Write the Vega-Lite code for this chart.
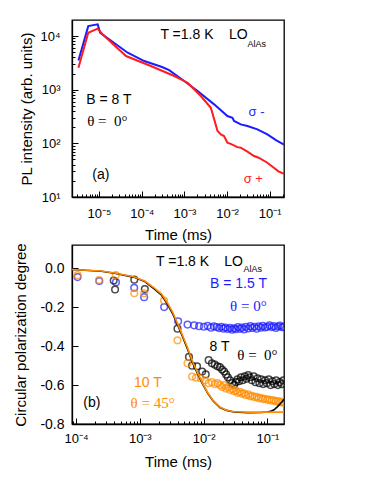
{
  "$schema": "https://vega.github.io/schema/vega-lite/v6.json",
  "padding": {"left": 13, "top": 19, "right": 5, "bottom": 5},
  "spacing": -1,
  "resolve": {"scale": {"color": "independent"}},
  "config": {
    "view": {"stroke": "black", "strokeWidth": 1.3},
    "axis": {
      "domainColor": "black", "domainWidth": 1.3, "tickColor": "black", "tickWidth": 1,
      "labelColor": "black", "titleColor": "black",
      "labelFont": "Liberation Sans", "titleFont": "Liberation Sans",
      "labelFontSize": 13, "titleFontSize": 15, "titleFontWeight": "normal",
      "grid": false, "labelOverlap": false, "labelFlush": false
    },
    "text": {"font": "Liberation Sans", "fontSize": 14, "color": "black", "align": "center", "baseline": "middle"}
  },
  "vconcat": [
    {
      "width": 212,
      "height": 177,
      "layer": [
        {
          "data": {"values": [
            {"pol": "σ-", "t": 3.3e-6, "I": 3500},
            {"pol": "σ-", "t": 5.6e-6, "I": 15300},
            {"pol": "σ-", "t": 9.3e-6, "I": 16500},
            {"pol": "σ-", "t": 1.07e-5, "I": 11500},
            {"pol": "σ-", "t": 2.0e-5, "I": 8000},
            {"pol": "σ-", "t": 4.7e-5, "I": 4890},
            {"pol": "σ-", "t": 1.15e-4, "I": 3420},
            {"pol": "σ-", "t": 3.0e-4, "I": 2650},
            {"pol": "σ-", "t": 4.4e-4, "I": 2320},
            {"pol": "σ-", "t": 9.9e-4, "I": 1450},
            {"pol": "σ-", "t": 2.04e-3, "I": 944},
            {"pol": "σ-", "t": 4.98e-3, "I": 533},
            {"pol": "σ-", "t": 1.02e-2, "I": 323},
            {"pol": "σ-", "t": 1.34e-2, "I": 300},
            {"pol": "σ-", "t": 1.46e-2, "I": 261},
            {"pol": "σ-", "t": 2.1e-2, "I": 226},
            {"pol": "σ-", "t": 3.0e-2, "I": 210},
            {"pol": "σ-", "t": 5.15e-2, "I": 182},
            {"pol": "σ-", "t": 8.8e-2, "I": 147},
            {"pol": "σ-", "t": 0.14, "I": 115},
            {"pol": "σ-", "t": 0.216, "I": 95},
            {"pol": "σ+", "t": 3.3e-6, "I": 2560},
            {"pol": "σ+", "t": 5.6e-6, "I": 11500},
            {"pol": "σ+", "t": 9.3e-6, "I": 13700},
            {"pol": "σ+", "t": 1.22e-5, "I": 10700},
            {"pol": "σ+", "t": 4.3e-5, "I": 4240},
            {"pol": "σ+", "t": 1.64e-4, "I": 2760},
            {"pol": "σ+", "t": 5.8e-4, "I": 1800},
            {"pol": "σ+", "t": 1.19e-3, "I": 1350},
            {"pol": "σ+", "t": 2.43e-3, "I": 762},
            {"pol": "σ+", "t": 4.17e-3, "I": 461},
            {"pol": "σ+", "t": 5.0e-3, "I": 280},
            {"pol": "σ+", "t": 5.98e-3, "I": 170},
            {"pol": "σ+", "t": 7.15e-3, "I": 147},
            {"pol": "σ+", "t": 8.5e-3, "I": 137},
            {"pol": "σ+", "t": 1.02e-2, "I": 103},
            {"pol": "σ+", "t": 1.22e-2, "I": 98},
            {"pol": "σ+", "t": 1.75e-2, "I": 85},
            {"pol": "σ+", "t": 2.1e-2, "I": 83},
            {"pol": "σ+", "t": 3.0e-2, "I": 70},
            {"pol": "σ+", "t": 4.3e-2, "I": 58},
            {"pol": "σ+", "t": 5.5e-2, "I": 54},
            {"pol": "σ+", "t": 8.8e-2, "I": 43.5},
            {"pol": "σ+", "t": 0.125, "I": 35},
            {"pol": "σ+", "t": 0.16, "I": 30},
            {"pol": "σ+", "t": 0.216, "I": 27}
          ]},
          "mark": {"type": "line", "strokeWidth": 2, "clip": true},
          "encoding": {
            "x": {
              "field": "t", "type": "quantitative",
              "scale": {"type": "log", "domain": [2.33e-6, 0.216], "nice": false},
              "axis": {
                "title": "Time (ms)",
                "values": [3e-6,4e-6,5e-6,6e-6,7e-6,8e-6,9e-6,1e-5,2e-5,3e-5,4e-5,5e-5,6e-5,7e-5,8e-5,9e-5,1e-4,2e-4,3e-4,4e-4,5e-4,6e-4,7e-4,8e-4,9e-4,1e-3,2e-3,3e-3,4e-3,5e-3,6e-3,7e-3,8e-3,9e-3,1e-2,2e-2,3e-2,4e-2,5e-2,6e-2,7e-2,8e-2,9e-2,1e-1,2e-1],
                "labelExpr": "abs(log(datum.value)/LN10 - round(log(datum.value)/LN10)) < 0.01 ? '10' + (round(log(datum.value)/LN10) < 0 ? '⁻' : '') + ['⁰','¹','²','³','⁴','⁵','⁶'][abs(round(log(datum.value)/LN10))] : ''",
                "tickSize": {"condition": {"test": "abs(log(datum.value)/LN10 - round(log(datum.value)/LN10)) < 0.01", "value": -6}, "value": -3},
                "labelPadding": 16,
                "titlePadding": 4
              }
            },
            "y": {
              "field": "I", "type": "quantitative",
              "scale": {"type": "log", "domain": [10, 19900], "nice": false},
              "axis": {
                "title": "PL intensity (arb. units)",
                "values": [10,20,30,40,50,60,70,80,90,100,200,300,400,500,600,700,800,900,1000,2000,3000,4000,5000,6000,7000,8000,9000,10000],
                "labelExpr": "abs(log(datum.value)/LN10 - round(log(datum.value)/LN10)) < 0.01 ? '10' + (round(log(datum.value)/LN10) < 0 ? '⁻' : '') + ['⁰','¹','²','³','⁴','⁵','⁶'][abs(round(log(datum.value)/LN10))] : ''",
                "tickSize": {"condition": {"test": "abs(log(datum.value)/LN10 - round(log(datum.value)/LN10)) < 0.01", "value": -6}, "value": -3},
                "labelPadding": 18,
                "titlePadding": 5
              }
            },
            "color": {"field": "pol", "type": "nominal", "scale": {"domain": ["σ-", "σ+"], "range": ["#1c1cff", "#ff1c1c"]}, "legend": null}
          }
        },
        {
          "data": {"values": [
            {"t": 1.15e-3, "I": 10400, "label": "T =1.8 K"},
            {"t": 1.83e-2, "I": 10400, "label": "LO"},
            {"t": 1.71e-5, "I": 641, "label": "B = 8 T"},
            {"t": 1.11e-5, "I": 25.7, "label": "(a)"}
          ]},
          "mark": {"type": "text", "fontSize": 14},
          "encoding": {"x": {"field": "t", "type": "quantitative"}, "y": {"field": "I", "type": "quantitative"}, "text": {"field": "label"}}
        },
        {
          "data": {"values": [{"t": 4.97e-2, "I": 7140, "label": "AlAs"}]},
          "mark": {"type": "text", "fontSize": 9},
          "encoding": {"x": {"field": "t", "type": "quantitative"}, "y": {"field": "I", "type": "quantitative"}, "text": {"field": "label"}}
        },
        {
          "data": {"values": [{"t": 1.57e-5, "I": 264, "label": "θ = \u00a00°"}]},
          "mark": {"type": "text", "fontSize": 15, "font": "Liberation Serif"},
          "encoding": {"x": {"field": "t", "type": "quantitative"}, "y": {"field": "I", "type": "quantitative"}, "text": {"field": "label"}}
        },
        {
          "data": {"values": [{"t": 4.91e-2, "I": 380, "label": "σ -"}]},
          "mark": {"type": "text", "fontSize": 13, "color": "#1c1cff"},
          "encoding": {"x": {"field": "t", "type": "quantitative"}, "y": {"field": "I", "type": "quantitative"}, "text": {"field": "label"}}
        },
        {
          "data": {"values": [{"t": 4.11e-2, "I": 21.4, "label": "σ +"}]},
          "mark": {"type": "text", "fontSize": 13, "color": "#ff1c1c"},
          "encoding": {"x": {"field": "t", "type": "quantitative"}, "y": {"field": "I", "type": "quantitative"}, "text": {"field": "label"}}
        }
      ]
    },
    {
      "width": 212,
      "height": 179,
      "layer": [
        {
          "data": {"values": [
            {"B": "1.5 T", "t": 1.06e-4, "P": -0.045},
            {"B": "1.5 T", "t": 2.32e-4, "P": -0.065},
            {"B": "1.5 T", "t": 4.23e-4, "P": -0.071},
            {"B": "1.5 T", "t": 8.17e-4, "P": -0.100},
            {"B": "1.5 T", "t": 1.17e-3, "P": -0.148},
            {"B": "1.5 T", "t": 2.41e-3, "P": -0.199},
            {"B": "1.5 T", "t": 3.99e-3, "P": -0.272},
            {"B": "1.5 T", "t": 5.6e-3, "P": -0.289},
            {"B": "1.5 T", "t": 7.1e-3, "P": -0.293},
            {"B": "1.5 T", "t": 8.5e-3, "P": -0.297},
            {"B": "1.5 T", "t": 1.01e-2, "P": -0.300},
            {"B": "1.5 T", "t": 1.16e-2, "P": -0.296},
            {"B": "1.5 T", "t": 1.3e-2, "P": -0.305},
            {"B": "1.5 T", "t": 1.45e-2, "P": -0.298},
            {"B": "1.5 T", "t": 1.6e-2, "P": -0.302},
            {"B": "1.5 T", "t": 1.75e-2, "P": -0.307},
            {"B": "1.5 T", "t": 1.9e-2, "P": -0.300},
            {"B": "1.5 T", "t": 2.05e-2, "P": -0.310},
            {"B": "1.5 T", "t": 2.2e-2, "P": -0.304},
            {"B": "1.5 T", "t": 2.4e-2, "P": -0.312},
            {"B": "1.5 T", "t": 2.6e-2, "P": -0.306},
            {"B": "1.5 T", "t": 2.8e-2, "P": -0.315},
            {"B": "1.5 T", "t": 3.0e-2, "P": -0.308},
            {"B": "1.5 T", "t": 3.2e-2, "P": -0.313},
            {"B": "1.5 T", "t": 3.45e-2, "P": -0.302},
            {"B": "1.5 T", "t": 3.7e-2, "P": -0.311},
            {"B": "1.5 T", "t": 4.0e-2, "P": -0.305},
            {"B": "1.5 T", "t": 4.3e-2, "P": -0.314},
            {"B": "1.5 T", "t": 4.6e-2, "P": -0.300},
            {"B": "1.5 T", "t": 5.0e-2, "P": -0.309},
            {"B": "1.5 T", "t": 5.4e-2, "P": -0.297},
            {"B": "1.5 T", "t": 5.8e-2, "P": -0.306},
            {"B": "1.5 T", "t": 6.3e-2, "P": -0.300},
            {"B": "1.5 T", "t": 6.8e-2, "P": -0.310},
            {"B": "1.5 T", "t": 7.3e-2, "P": -0.298},
            {"B": "1.5 T", "t": 7.9e-2, "P": -0.305},
            {"B": "1.5 T", "t": 8.5e-2, "P": -0.296},
            {"B": "1.5 T", "t": 9.2e-2, "P": -0.304},
            {"B": "1.5 T", "t": 0.1, "P": -0.300},
            {"B": "1.5 T", "t": 0.108, "P": -0.293},
            {"B": "1.5 T", "t": 0.117, "P": -0.302},
            {"B": "1.5 T", "t": 0.126, "P": -0.297},
            {"B": "1.5 T", "t": 0.136, "P": -0.306},
            {"B": "1.5 T", "t": 0.147, "P": -0.299},
            {"B": "1.5 T", "t": 0.158, "P": -0.294},
            {"B": "1.5 T", "t": 0.17, "P": -0.303},
            {"B": "1.5 T", "t": 0.179, "P": -0.300},
            {"B": "8 T", "t": 3.9e-4, "P": -0.063},
            {"B": "8 T", "t": 4.1e-4, "P": -0.109},
            {"B": "8 T", "t": 8.2e-4, "P": -0.058},
            {"B": "8 T", "t": 1.2e-3, "P": -0.106},
            {"B": "8 T", "t": 3.9e-3, "P": -0.310},
            {"B": "8 T", "t": 5.9e-3, "P": -0.455},
            {"B": "8 T", "t": 6.6e-3, "P": -0.500},
            {"B": "8 T", "t": 7.9e-3, "P": -0.503},
            {"B": "8 T", "t": 9.5e-3, "P": -0.530},
            {"B": "8 T", "t": 1.08e-2, "P": -0.545},
            {"B": "8 T", "t": 1.2e-2, "P": -0.472},
            {"B": "8 T", "t": 1.35e-2, "P": -0.488},
            {"B": "8 T", "t": 1.5e-2, "P": -0.495},
            {"B": "8 T", "t": 1.65e-2, "P": -0.503},
            {"B": "8 T", "t": 1.8e-2, "P": -0.508},
            {"B": "8 T", "t": 1.95e-2, "P": -0.520},
            {"B": "8 T", "t": 2.1e-2, "P": -0.530},
            {"B": "8 T", "t": 2.25e-2, "P": -0.545},
            {"B": "8 T", "t": 2.4e-2, "P": -0.560},
            {"B": "8 T", "t": 2.6e-2, "P": -0.575},
            {"B": "8 T", "t": 2.8e-2, "P": -0.590},
            {"B": "8 T", "t": 3.0e-2, "P": -0.600},
            {"B": "8 T", "t": 3.2e-2, "P": -0.585},
            {"B": "8 T", "t": 3.4e-2, "P": -0.570},
            {"B": "8 T", "t": 3.6e-2, "P": -0.580},
            {"B": "8 T", "t": 3.85e-2, "P": -0.560},
            {"B": "8 T", "t": 4.1e-2, "P": -0.575},
            {"B": "8 T", "t": 4.4e-2, "P": -0.555},
            {"B": "8 T", "t": 4.7e-2, "P": -0.568},
            {"B": "8 T", "t": 5.0e-2, "P": -0.548},
            {"B": "8 T", "t": 5.3e-2, "P": -0.560},
            {"B": "8 T", "t": 5.7e-2, "P": -0.575},
            {"B": "8 T", "t": 6.1e-2, "P": -0.555},
            {"B": "8 T", "t": 6.5e-2, "P": -0.585},
            {"B": "8 T", "t": 7.0e-2, "P": -0.565},
            {"B": "8 T", "t": 7.5e-2, "P": -0.590},
            {"B": "8 T", "t": 8.0e-2, "P": -0.570},
            {"B": "8 T", "t": 8.6e-2, "P": -0.595},
            {"B": "8 T", "t": 9.2e-2, "P": -0.575},
            {"B": "8 T", "t": 9.8e-2, "P": -0.590},
            {"B": "8 T", "t": 0.105, "P": -0.570},
            {"B": "8 T", "t": 0.112, "P": -0.600},
            {"B": "8 T", "t": 0.12, "P": -0.580},
            {"B": "8 T", "t": 0.128, "P": -0.595},
            {"B": "8 T", "t": 0.137, "P": -0.575},
            {"B": "8 T", "t": 0.146, "P": -0.600},
            {"B": "8 T", "t": 0.156, "P": -0.585},
            {"B": "8 T", "t": 0.167, "P": -0.595},
            {"B": "8 T", "t": 0.178, "P": -0.575},
            {"B": "10 T", "t": 1.06e-4, "P": -0.035},
            {"B": "10 T", "t": 2.3e-4, "P": -0.060},
            {"B": "10 T", "t": 4.2e-4, "P": -0.035},
            {"B": "10 T", "t": 8.2e-4, "P": -0.128},
            {"B": "10 T", "t": 1.17e-3, "P": -0.128},
            {"B": "10 T", "t": 2.4e-3, "P": -0.165},
            {"B": "10 T", "t": 3.9e-3, "P": -0.370},
            {"B": "10 T", "t": 5.6e-3, "P": -0.488},
            {"B": "10 T", "t": 6.6e-3, "P": -0.556},
            {"B": "10 T", "t": 7.6e-3, "P": -0.562},
            {"B": "10 T", "t": 9.0e-3, "P": -0.565},
            {"B": "10 T", "t": 1.05e-2, "P": -0.575},
            {"B": "10 T", "t": 1.2e-2, "P": -0.590},
            {"B": "10 T", "t": 1.35e-2, "P": -0.585},
            {"B": "10 T", "t": 1.5e-2, "P": -0.595},
            {"B": "10 T", "t": 1.65e-2, "P": -0.590},
            {"B": "10 T", "t": 1.8e-2, "P": -0.600},
            {"B": "10 T", "t": 1.95e-2, "P": -0.610},
            {"B": "10 T", "t": 2.1e-2, "P": -0.600},
            {"B": "10 T", "t": 2.25e-2, "P": -0.618},
            {"B": "10 T", "t": 2.4e-2, "P": -0.610},
            {"B": "10 T", "t": 2.6e-2, "P": -0.625},
            {"B": "10 T", "t": 2.8e-2, "P": -0.620},
            {"B": "10 T", "t": 3.0e-2, "P": -0.632},
            {"B": "10 T", "t": 3.2e-2, "P": -0.628},
            {"B": "10 T", "t": 3.45e-2, "P": -0.640},
            {"B": "10 T", "t": 3.7e-2, "P": -0.635},
            {"B": "10 T", "t": 4.0e-2, "P": -0.645},
            {"B": "10 T", "t": 4.3e-2, "P": -0.642},
            {"B": "10 T", "t": 4.6e-2, "P": -0.652},
            {"B": "10 T", "t": 5.0e-2, "P": -0.648},
            {"B": "10 T", "t": 5.4e-2, "P": -0.658},
            {"B": "10 T", "t": 5.8e-2, "P": -0.655},
            {"B": "10 T", "t": 6.3e-2, "P": -0.662},
            {"B": "10 T", "t": 6.8e-2, "P": -0.660},
            {"B": "10 T", "t": 7.3e-2, "P": -0.668},
            {"B": "10 T", "t": 7.9e-2, "P": -0.665},
            {"B": "10 T", "t": 8.5e-2, "P": -0.672},
            {"B": "10 T", "t": 9.2e-2, "P": -0.670},
            {"B": "10 T", "t": 0.1, "P": -0.676},
            {"B": "10 T", "t": 0.108, "P": -0.674},
            {"B": "10 T", "t": 0.117, "P": -0.680},
            {"B": "10 T", "t": 0.126, "P": -0.678},
            {"B": "10 T", "t": 0.136, "P": -0.684},
            {"B": "10 T", "t": 0.147, "P": -0.682},
            {"B": "10 T", "t": 0.158, "P": -0.688},
            {"B": "10 T", "t": 0.17, "P": -0.685},
            {"B": "10 T", "t": 0.179, "P": -0.692}
          ]},
          "mark": {"type": "point", "filled": false, "size": 44, "strokeWidth": 1.5, "clip": true},
          "encoding": {
            "x": {
              "field": "t", "type": "quantitative",
              "scale": {"type": "log", "domain": [8.66e-5, 0.182], "nice": false},
              "axis": {
                "title": "Time (ms)",
                "values": [9e-5,1e-4,2e-4,3e-4,4e-4,5e-4,6e-4,7e-4,8e-4,9e-4,1e-3,2e-3,3e-3,4e-3,5e-3,6e-3,7e-3,8e-3,9e-3,1e-2,2e-2,3e-2,4e-2,5e-2,6e-2,7e-2,8e-2,9e-2,1e-1],
                "labelExpr": "abs(log(datum.value)/LN10 - round(log(datum.value)/LN10)) < 0.01 ? '10' + (round(log(datum.value)/LN10) < 0 ? '⁻' : '') + ['⁰','¹','²','³','⁴','⁵','⁶'][abs(round(log(datum.value)/LN10))] : ''",
                "tickSize": {"condition": {"test": "abs(log(datum.value)/LN10 - round(log(datum.value)/LN10)) < 0.01", "value": -6}, "value": -3},
                "labelPadding": 14,
                "titlePadding": 6
              }
            },
            "y": {
              "field": "P", "type": "quantitative",
              "scale": {"domain": [-0.8, 0.12], "nice": false, "zero": false},
              "axis": {
                "title": "Circular polarization degree",
                "values": [-0.8,-0.7,-0.6,-0.5,-0.4,-0.3,-0.2,-0.1,0,0.1],
                "labelFontSize": 14,
                "labelExpr": "abs(round(datum.value*10)) % 2 == 0 ? (datum.value < -0.01 ? '-' : '') + format(abs(datum.value), '.1f') : ''",
                "tickSize": {"condition": {"test": "abs(round(datum.value*10)) % 2 == 0", "value": -6}, "value": -3},
                "labelPadding": 14,
                "titlePadding": 11
              }
            },
            "color": {"field": "B", "type": "nominal", "scale": {"domain": ["1.5 T", "8 T", "10 T"], "range": ["#1c1cff", "#000000", "#ff8c00"]}, "legend": null}
          }
        },
        {
          "data": {"values": [
            {"fit": "8 T", "t": 8.7e-5, "P": -0.006},
            {"fit": "8 T", "t": 2.5e-4, "P": -0.015},
            {"fit": "8 T", "t": 4e-4, "P": -0.025},
            {"fit": "8 T", "t": 8e-4, "P": -0.045},
            {"fit": "8 T", "t": 1.2e-3, "P": -0.068},
            {"fit": "8 T", "t": 1.68e-3, "P": -0.105},
            {"fit": "8 T", "t": 2.2e-3, "P": -0.138},
            {"fit": "8 T", "t": 2.72e-3, "P": -0.185},
            {"fit": "8 T", "t": 3.3e-3, "P": -0.235},
            {"fit": "8 T", "t": 3.9e-3, "P": -0.29},
            {"fit": "8 T", "t": 4.6e-3, "P": -0.345},
            {"fit": "8 T", "t": 5.6e-3, "P": -0.415},
            {"fit": "8 T", "t": 6.6e-3, "P": -0.48},
            {"fit": "8 T", "t": 8.0e-3, "P": -0.54},
            {"fit": "8 T", "t": 9.5e-3, "P": -0.59},
            {"fit": "8 T", "t": 1.15e-2, "P": -0.64},
            {"fit": "8 T", "t": 1.4e-2, "P": -0.68},
            {"fit": "8 T", "t": 1.8e-2, "P": -0.715},
            {"fit": "8 T", "t": 2.3e-2, "P": -0.73},
            {"fit": "8 T", "t": 3.0e-2, "P": -0.738},
            {"fit": "8 T", "t": 5.0e-2, "P": -0.742},
            {"fit": "8 T", "t": 8.0e-2, "P": -0.741},
            {"fit": "8 T", "t": 0.1, "P": -0.738},
            {"fit": "8 T", "t": 0.115, "P": -0.733},
            {"fit": "8 T", "t": 0.127, "P": -0.727},
            {"fit": "8 T", "t": 0.143, "P": -0.712},
            {"fit": "8 T", "t": 0.163, "P": -0.692},
            {"fit": "8 T", "t": 0.172, "P": -0.684},
            {"fit": "8 T", "t": 0.182, "P": -0.672},
            {"fit": "10 T", "t": 8.7e-5, "P": -0.006},
            {"fit": "10 T", "t": 2.5e-4, "P": -0.014},
            {"fit": "10 T", "t": 4e-4, "P": -0.024},
            {"fit": "10 T", "t": 8e-4, "P": -0.043},
            {"fit": "10 T", "t": 1.2e-3, "P": -0.065},
            {"fit": "10 T", "t": 1.68e-3, "P": -0.1},
            {"fit": "10 T", "t": 2.2e-3, "P": -0.132},
            {"fit": "10 T", "t": 2.72e-3, "P": -0.178},
            {"fit": "10 T", "t": 3.3e-3, "P": -0.228},
            {"fit": "10 T", "t": 3.9e-3, "P": -0.283},
            {"fit": "10 T", "t": 4.6e-3, "P": -0.338},
            {"fit": "10 T", "t": 5.6e-3, "P": -0.408},
            {"fit": "10 T", "t": 6.6e-3, "P": -0.474},
            {"fit": "10 T", "t": 8.0e-3, "P": -0.535},
            {"fit": "10 T", "t": 9.5e-3, "P": -0.586},
            {"fit": "10 T", "t": 1.15e-2, "P": -0.637},
            {"fit": "10 T", "t": 1.4e-2, "P": -0.678},
            {"fit": "10 T", "t": 1.8e-2, "P": -0.713},
            {"fit": "10 T", "t": 2.3e-2, "P": -0.729},
            {"fit": "10 T", "t": 3.0e-2, "P": -0.737},
            {"fit": "10 T", "t": 5.0e-2, "P": -0.739},
            {"fit": "10 T", "t": 0.1, "P": -0.739},
            {"fit": "10 T", "t": 0.182, "P": -0.739}
          ]},
          "mark": {"type": "line", "strokeWidth": 1.6, "clip": true},
          "encoding": {
            "x": {"field": "t", "type": "quantitative"},
            "y": {"field": "P", "type": "quantitative"},
            "detail": {"field": "fit"},
            "color": {"field": "fit", "type": "nominal", "scale": {"domain": ["1.5 T", "8 T", "10 T"], "range": ["#1c1cff", "#000000", "#ff8c00"]}, "legend": null}
          }
        },
        {
          "data": {"values": [
            {"t": 4.68e-3, "P": 0.031, "label": "T =1.8 K"},
            {"t": 2.94e-2, "P": 0.031, "label": "LO"},
            {"t": 1.78e-2, "P": -0.405, "label": "8 T"},
            {"t": 1.77e-4, "P": -0.694, "label": "(b)"}
          ]},
          "mark": {"type": "text", "fontSize": 14},
          "encoding": {"x": {"field": "t", "type": "quantitative"}, "y": {"field": "P", "type": "quantitative"}, "text": {"field": "label"}}
        },
        {
          "data": {"values": [{"t": 5.89e-2, "P": -0.003, "label": "AlAs"}]},
          "mark": {"type": "text", "fontSize": 9},
          "encoding": {"x": {"field": "t", "type": "quantitative"}, "y": {"field": "P", "type": "quantitative"}, "text": {"field": "label"}}
        },
        {
          "data": {"values": [{"t": 6.97e-2, "P": -0.446, "label": "θ = \u00a00°"}]},
          "mark": {"type": "text", "fontSize": 15, "font": "Liberation Serif"},
          "encoding": {"x": {"field": "t", "type": "quantitative"}, "y": {"field": "P", "type": "quantitative"}, "text": {"field": "label"}}
        },
        {
          "data": {"values": [{"t": 3.52e-2, "P": -0.08, "label": "B = 1.5 T"}]},
          "mark": {"type": "text", "fontSize": 14, "color": "#1c1cff"},
          "encoding": {"x": {"field": "t", "type": "quantitative"}, "y": {"field": "P", "type": "quantitative"}, "text": {"field": "label"}}
        },
        {
          "data": {"values": [{"t": 5.04e-2, "P": -0.191, "label": "θ = 0°"}]},
          "mark": {"type": "text", "fontSize": 15, "font": "Liberation Serif", "color": "#1c1cff"},
          "encoding": {"x": {"field": "t", "type": "quantitative"}, "y": {"field": "P", "type": "quantitative"}, "text": {"field": "label"}}
        },
        {
          "data": {"values": [{"t": 1.34e-3, "P": -0.59, "label": "10 T"}]},
          "mark": {"type": "text", "fontSize": 14, "color": "#ff8c00"},
          "encoding": {"x": {"field": "t", "type": "quantitative"}, "y": {"field": "P", "type": "quantitative"}, "text": {"field": "label"}}
        },
        {
          "data": {"values": [{"t": 1.59e-3, "P": -0.691, "label": "θ = 45°"}]},
          "mark": {"type": "text", "fontSize": 15, "font": "Liberation Serif", "color": "#ff8c00"},
          "encoding": {"x": {"field": "t", "type": "quantitative"}, "y": {"field": "P", "type": "quantitative"}, "text": {"field": "label"}}
        }
      ]
    }
  ]
}
